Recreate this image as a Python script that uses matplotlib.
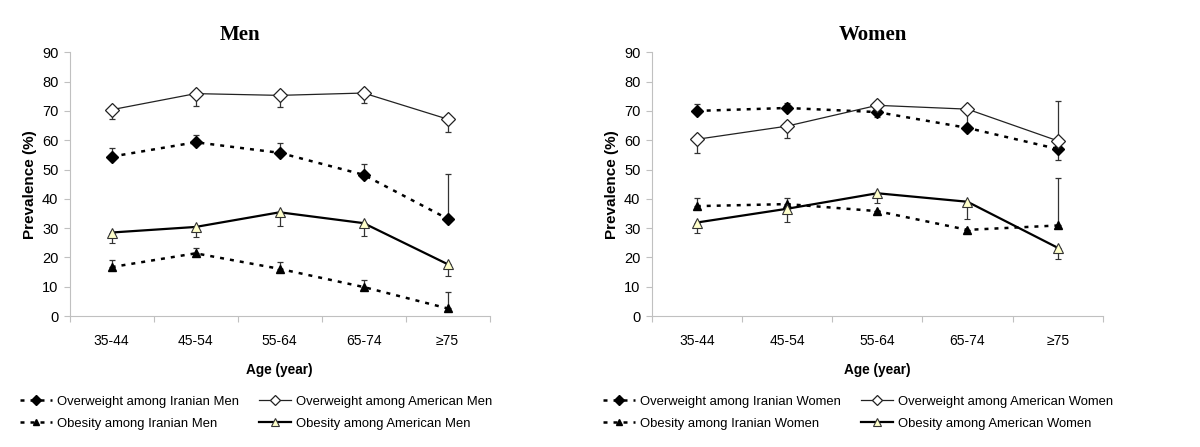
import numpy as np
import matplotlib
matplotlib.use("Agg")
import matplotlib.pyplot as plt

plt.rcParams["font.family"] = ["Liberation Sans", "DejaVu Sans"]

ages = ["35-44", "45-54", "55-64", "65-74", "≥75"]

# Men
men_ow_iran = [54.4, 59.3, 55.7, 48.2, 33.2]
men_ow_iran_up = [3.1, 2.5, 3.3, 3.6, 15.2]
men_ow_us = [70.4, 75.9, 75.3, 76.1, 67.2]
men_ow_us_lo = [3.1, 4.2, 4.1, 3.3, 4.3]
men_ob_iran = [16.7, 21.4, 16.1, 9.9, 2.6]
men_ob_iran_up = [2.3, 1.8, 2.4, 2.3, 5.6]
men_ob_us = [28.5, 30.4, 35.4, 31.7, 17.7]
men_ob_us_lo = [3.6, 3.5, 4.8, 4.5, 4.1]

# Women
wom_ow_iran = [70.0, 71.0, 69.6, 64.2, 57.0]
wom_ow_iran_up = [2.5, 1.7, 0.0, 0.0, 0.0]
wom_ow_iran_lo = [0.0, 0.0, 1.7, 0.0, 3.6]
wom_ow_us = [60.3, 64.8, 71.9, 70.6, 59.8]
wom_ow_us_lo = [4.6, 4.1, 0.0, 5.4, 0.0]
wom_ow_us_up = [0.0, 0.0, 0.0, 0.0, 13.6]
wom_ob_iran = [37.5, 38.2, 35.8, 29.4, 30.9]
wom_ob_iran_up = [2.8, 2.1, 0.0, 0.0, 16.1]
wom_ob_us = [31.9, 36.6, 41.9, 39.0, 23.3]
wom_ob_us_lo = [3.5, 4.6, 3.2, 5.8, 3.8]

x = np.arange(len(ages)) + 0.5
dot = (0, (1.6, 2.4))
tri_fill = "#ffffcc"
zeros = [0] * 5


def draw(ax, title, title_x, ow_ir, ow_ir_err, ow_us, ow_us_err,
         ob_ir, ob_ir_err, ob_us, ob_us_err):
    ek = dict(ecolor="#333333", elinewidth=0.9, capsize=2.3, capthick=0.9)
    h1 = ax.errorbar(x, ow_ir, yerr=ow_ir_err, color="black", ls=dot, lw=1.8,
                     marker="D", ms=6, mfc="black", mec="black", **ek)
    h3 = ax.errorbar(x, ow_us, yerr=ow_us_err, color="#222222", ls="-", lw=0.9,
                     marker="D", ms=7, mfc="white", mec="#222222", mew=0.9, **ek)
    h2 = ax.errorbar(x, ob_ir, yerr=ob_ir_err, color="black", ls=dot, lw=1.8,
                     marker="^", ms=6, mfc="black", mec="black", **ek)
    h4 = ax.errorbar(x, ob_us, yerr=ob_us_err, color="black", ls="-", lw=1.6,
                     marker="^", ms=7, mfc=tri_fill, mec="#333333", mew=0.8, **ek)
    ax.set_xlim(0, 5)
    ax.set_ylim(0, 90)
    ax.set_yticks(range(0, 91, 10))
    ax.set_xticks(range(0, 6))
    ax.set_xticklabels([])
    ax.set_xticks(x, minor=True)
    ax.set_xticklabels(ages, minor=True)
    ax.tick_params(axis="x", which="minor", length=0, pad=13, labelsize=10)
    ax.tick_params(axis="x", which="major", length=4, color="#c0c0c0")
    ax.tick_params(axis="y", length=4, color="#c0c0c0", labelsize=10.5, pad=4)
    for s in ["top", "right"]:
        ax.spines[s].set_visible(False)
    for s in ["left", "bottom"]:
        ax.spines[s].set_color("#c0c0c0")
    ax.set_title(title, family="Liberation Serif", fontweight="bold",
                 fontsize=15, pad=9, x=title_x)
    ax.set_ylabel("Prevalence (%)", fontweight="bold", fontsize=11)
    ax.set_xlabel("Age (year)", fontweight="bold", fontsize=9.8, labelpad=11)
    return [h1, h2, h3, h4]


fig = plt.figure(figsize=(12, 4.47), dpi=100)
ax1 = fig.add_axes([0.058, 0.293, 0.35, 0.59])
ax2 = fig.add_axes([0.543, 0.293, 0.376, 0.59])

hm = draw(ax1, "Men", 0.405, men_ow_iran, [zeros, men_ow_iran_up],
          men_ow_us, [men_ow_us_lo, zeros],
          men_ob_iran, [zeros, men_ob_iran_up],
          men_ob_us, [men_ob_us_lo, zeros])
hw = draw(ax2, "Women", 0.49, wom_ow_iran, [wom_ow_iran_lo, wom_ow_iran_up],
          wom_ow_us, [wom_ow_us_lo, wom_ow_us_up],
          wom_ob_iran, [zeros, wom_ob_iran_up],
          wom_ob_us, [wom_ob_us_lo, zeros])

men_labels = ["Overweight among Iranian Men", "Obesity among Iranian Men",
              "Overweight among American Men", "Obesity among American Men"]
wom_labels = ["Overweight among Iranian Women", "Obesity among Iranian Women",
              "Overweight among American Women", "Obesity among American Women"]

leg_kw = dict(loc="upper left", ncol=2, frameon=False, fontsize=9.4,
              handlelength=2.45, handletextpad=0.4, columnspacing=1.5,
              labelspacing=0.75, markerscale=0.8, borderpad=0,
              borderaxespad=0)
handles_m = [h[0] for h in hm]
handles_w = [h[0] for h in hw]
fig.legend(handles_m, men_labels, bbox_to_anchor=(20 / 1200, 0.115), **leg_kw)
fig.legend(handles_w, wom_labels, bbox_to_anchor=(603 / 1200, 0.115), **leg_kw)

fig.savefig("out.png", dpi=100)
